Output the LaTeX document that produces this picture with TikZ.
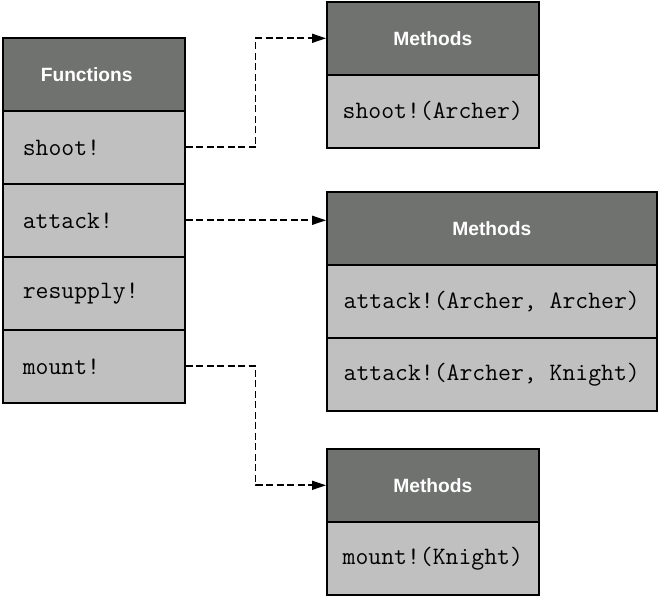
\documentclass[tikz,border=0pt]{standalone}
\usepackage{fontspec}
\newfontfamily\headfont{Liberation Sans}
\usetikzlibrary{arrows.meta}

\definecolor{headgray}{RGB}{112,114,112}
\definecolor{rowgray}{RGB}{192,192,192}

\tikzset{
  cell/.style={draw=black, line width=0.8pt, minimum height=36.5pt, inner sep=0pt, anchor=north west},
  head/.style={cell, fill=headgray, text=white, font=\headfont\bfseries\fontsize{9.6}{11}\selectfont},
  fcell/.style={cell, fill=rowgray, text width=71pt, inner xsep=10pt, align=left, font=\ttfamily\fontsize{12.5}{14}\selectfont},
  mcell/.style={cell, fill=rowgray, font=\ttfamily\fontsize{12.5}{14}\selectfont},
  link/.style={line width=0.8pt, dash pattern=on 3.5pt off 1.75pt, -{Triangle[length=7pt,width=4.5pt]}}
}

\begin{document}
\begin{tikzpicture}[x=0.5pt, y=-0.5pt]
\useasboundingbox (0,0) rectangle (658,597);

% Functions table
\node [head, text width=53pt, inner xsep=19pt, align=left] (funcHead) at (2,37) {Functions};
\node [fcell] (fShoot) at (2,110) {shoot!};
\node [fcell] (fAttack) at (2,183) {attack!};
\node [fcell] (fResupply) at (2,256) {resupply!};
\node [fcell] (fMount) at (2,329) {mount!};

% Methods tables
\node [head, minimum width=106pt] (mShootHead) at (326,1) {Methods};
\node [mcell, minimum width=106pt] (mShoot) at (326,74) {shoot!(Archer)};

\node [head, minimum width=165pt] (mAttackHead) at (326,191) {Methods};
\node [mcell, minimum width=165pt] (mAttackA) at (326,264) {attack!(Archer, Archer)};
\node [mcell, minimum width=165pt] (mAttackK) at (326,337) {attack!(Archer, Knight)};

\node [head, minimum width=106pt] (mMountHead) at (326,448) {Methods};
\node [mcell, minimum width=106pt] (mMount) at (326,521) {mount!(Knight)};

% Dispatch links
\draw[link] (fShoot.east) -- ++(70,0) |- (mShootHead.west);
\draw[link] (fAttack.east) -- (fAttack.east -| mAttackHead.west);
\draw[link] (fMount.east) -- ++(70,0) |- (mMountHead.west);

\end{tikzpicture}
\end{document}
